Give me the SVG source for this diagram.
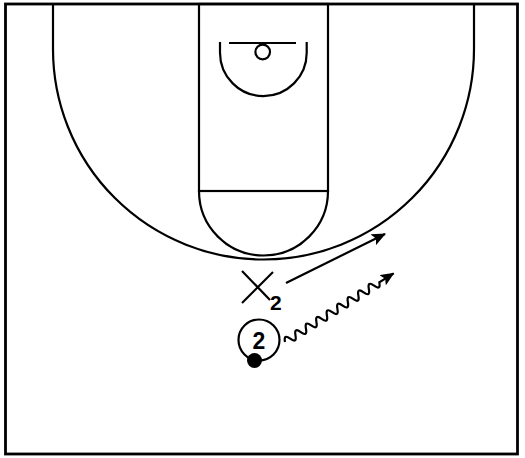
<svg xmlns="http://www.w3.org/2000/svg" width="525" height="458" viewBox="0 0 525 458">
<defs>
<style>
.ln{fill:none;stroke:#000;stroke-width:2.2}
.lbl{font-family:"Liberation Sans",Arial,sans-serif;font-weight:bold;fill:#000}
</style>
<marker id="ah" viewBox="0 0 14 12" refX="13" refY="6" markerWidth="14" markerHeight="12" markerUnits="userSpaceOnUse" orient="auto">
<path d="M0,0 L14,6 L0,12 L3,6 Z" fill="#000"/>
</marker>
</defs>
<rect width="525" height="458" fill="#fff"/>
<g id="court">
<rect x="5.5" y="4" width="512" height="450" fill="none" stroke="#000" stroke-width="2.8"/>
<path class="ln" d="M53,4 V49 A210.5,210.5 0 0 0 474,49 V4"/>
<rect class="ln" x="199" y="4" width="129" height="187"/>
<path class="ln" d="M199,191 A64.5,64.5 0 0 0 328,191"/>
<line class="ln" x1="229" y1="43" x2="296" y2="43"/>
<circle class="ln" cx="262.7" cy="52" r="7.3"/>
<path class="ln" d="M220,42 V52.7 A43.3,43.3 0 0 0 306.7,52.7 V42"/>
</g>
<g id="connectors">
<line class="ln" x1="286" y1="283" x2="385" y2="234" stroke-width="2.2" marker-end="url(#ah)"/>
<g transform="translate(285,342) rotate(-32.3)">
<path class="ln" stroke-width="2" d="M0,0 q3.1,-8 6.2,0 t6.2,0 t6.2,0 t6.2,0 t6.2,0 t6.2,0 t6.2,0 t6.2,0 t6.2,0 t6.2,0 t6.2,0 t6.2,0 t6.2,0 t6.2,0 t6.2,0 t6.2,0 t6.2,0 t6.2,0 L128.5,0" marker-end="url(#ah)"/>
</g>
</g>
<g id="x2">
<line class="ln" x1="242" y1="271" x2="270" y2="300"/>
<line class="ln" x1="242" y1="303" x2="273" y2="272"/>
<text class="lbl" x="270" y="310" font-size="21">2</text>
</g>
<g id="o2">
<circle class="ln" cx="259" cy="340" r="20.5"/>
<text class="lbl" x="259" y="348.5" font-size="23" text-anchor="middle">2</text>
<circle cx="254.5" cy="360.5" r="7.5" fill="#000"/>
</g>
</svg>
